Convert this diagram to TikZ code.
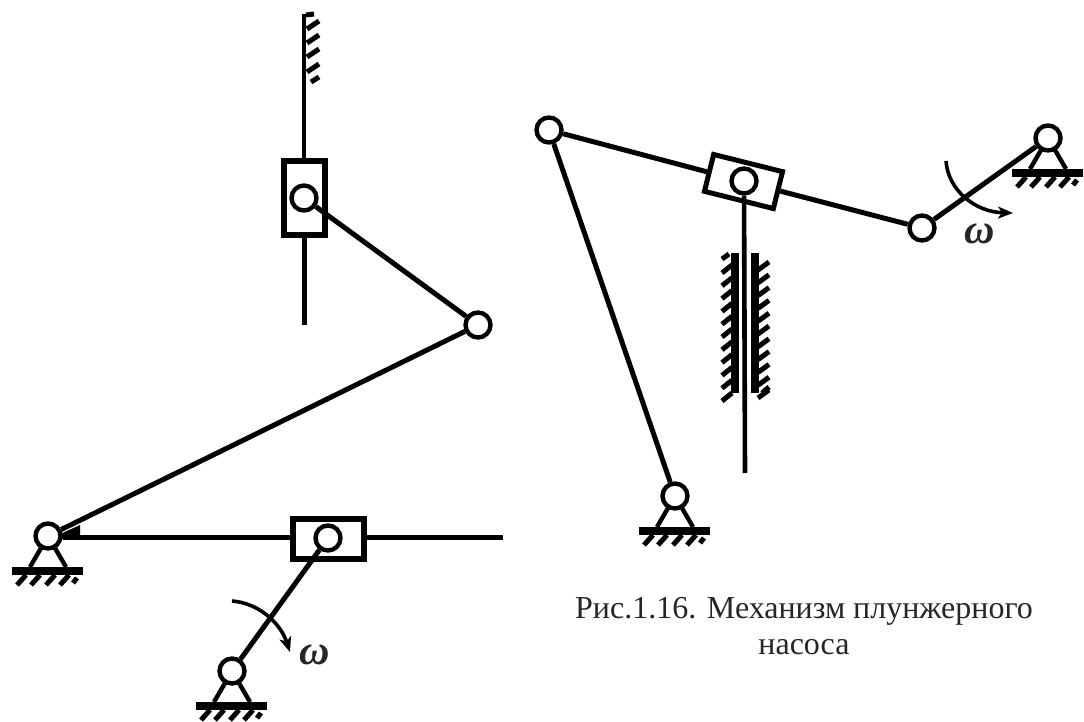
\documentclass[tikz,border=0pt]{standalone}
\usepackage{fontspec}
\setmainfont{Liberation Serif}
\usetikzlibrary{arrows.meta}
\tikzset{
  link/.style={line width=5pt,black},
  thin link/.style={line width=4.6pt,black},
  joint/.style={circle,draw=black,fill=white,line width=4.4pt,minimum size=25pt,inner sep=0pt},
  slider/.style={rectangle,draw=black,fill=white,line width=6pt,inner sep=0pt},
  rot arrow/.style={line width=3.6pt,black,-{Stealth[length=15pt,width=12pt,inset=4pt]}},
  hatch/.style={line width=5pt,black},
  caption/.style={font=\fontsize{32}{36}\selectfont,text=black!85,align=center,inner sep=0pt},
  omega/.style={font=\fontsize{42}{42}\selectfont\bfseries\itshape,text=black!85,inner sep=0pt},
  pics/ground/.style={code={
    \draw[line width=4.4pt] (-18,31) -- (0,0) -- (18,31);
    \fill[black] (-36,31) rectangle (35,39);
    \foreach \d in {-28,-14,1,15} \draw[hatch] (\d+6,39) -- (\d-3,49);
    \draw[hatch] (29,42) -- (25,47);
  }}
}
\begin{document}
\begin{tikzpicture}[x=1pt,y=-1pt]
\useasboundingbox (0,0) rectangle (1084,722);
\fill[white] (0,0) rectangle (1084,722);
% left mechanism: nodes
\coordinate (railend) at (503,537);
\coordinate (topend) at (304,14);
\coordinate (botend) at (304,325);
\coordinate (arcA) at (232,601);
\coordinate (arcB) at (290,652);
\pic at (48,536) {ground};
\pic at (232,671) {ground};
\node[slider,minimum width=71pt,minimum height=40pt] (sliderH) at (328.5,538.5) {};
\node[slider,minimum width=41pt,minimum height=73pt] (sliderV) at (304.5,198) {};
\node[joint] (pA) at (48,536) {};
\node[joint] (pB) at (232,671) {};
\node[joint] (pC) at (328,538) {};
\node[joint] (pD) at (478,325) {};
\node[joint] (pE) at (304,198) {};
% left connectors
\fill[black] (58,535) -- (80,525) -- (80,539) -- (58,539) -- cycle;
\draw[link] (pA.east |- railend) -- (sliderH.west |- railend);
\draw[link] (sliderH.east |- railend) -- (railend);
\draw[link] (pA) -- (pD);
\draw[link] (pE) -- (pD);
\draw[link] (pC) -- (pB);
\draw[thin link] (topend) -- (topend |- sliderV.north);
\draw[link] (botend |- sliderV.south) -- (botend);
\draw[rot arrow] (arcA) .. controls (258,603) and (280,622) .. (arcB);
\foreach \y in {21,35,49,64} \draw[hatch] (319,\y) -- (307,\y+8);
\draw[hatch] (306,15) -- (314,14);
\draw[hatch] (311,82) -- (319,77);
\node[omega] (om1) at (315,655) {ω};
% right mechanism
\coordinate (rodend) at (745,473);
\coordinate (arcC) at (946,161);
\coordinate (arcD) at (1013,213);
\pic at (675,496) {ground};
\pic at (1048,138) {ground};
\node[slider,rotate=-14,line width=5pt,minimum width=71pt,minimum height=38pt] (sliderR) at (743.5,181.5) {};
\node[joint] (qA) at (549,130) {};
\node[joint] (qB) at (922,228) {};
\node[joint] (qC) at (744,181) {};
\node[joint] (qD) at (675,496) {};
\node[joint] (qE) at (1048,138) {};
\draw[link] (qA) -- (sliderR);
\draw[link] (sliderR) -- (qB);
\draw[link] (qA) -- (qD);
\draw[link] (qB) -- (qE);
\draw[thin link] (qC) -- (rodend);
\draw[rot arrow] (arcC) .. controls (948,190) and (975,212) .. (arcD);
\fill[black] (731,253) rectangle (739,393);
\fill[black] (751,253) rectangle (759,393);
\foreach \i in {0,...,10} {
  \draw[hatch] (732,{265+\i*12.8}) -- (722,{273+\i*12.8});
  \draw[hatch] (758,{270+\i*12.8}) -- (769,{262+\i*12.8});
}
\draw[hatch] (722,259) -- (729,254);
\draw[hatch] (762,393) -- (769,387);
\node[omega] (om2) at (980,234) {ω};
\node[caption] (cap) at (804,626.5) {Рис.1.16. Механизм плунжерного\\насоса};
\end{tikzpicture}
\end{document}
